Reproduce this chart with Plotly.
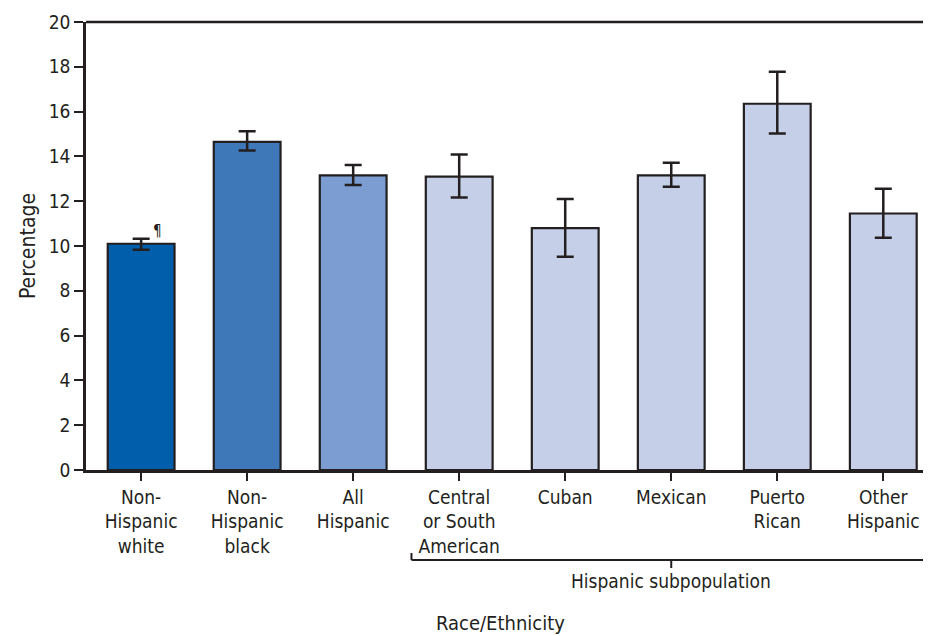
import plotly.graph_objects as go

categories = ["Non-<br>Hispanic<br>white", "Non-<br>Hispanic<br>black", "All<br>Hispanic",
              "Central<br>or South<br>American", "Cuban", "Mexican", "Puerto<br>Rican", "Other<br>Hispanic"]
values = [10.1, 14.65, 13.15, 13.1, 10.8, 13.15, 16.35, 11.45]
err_upper = [10.32, 15.12, 13.62, 14.08, 12.1, 13.72, 17.78, 12.56]
err_lower = [9.83, 14.26, 12.72, 12.16, 9.52, 12.65, 15.02, 10.37]
colors = ["#005eaa", "#3f78b9", "#7b9dd2", "#c5d0e8", "#c5d0e8", "#c5d0e8", "#c5d0e8", "#c5d0e8"]
y_ticks = [0, 2, 4, 6, 8, 10, 12, 14, 16, 18, 20]

FONT = "DejaVu Sans Condensed, sans-serif"
DARK = "#231f20"

# page body has an 8px margin; compensate so the figure fills the 931x636 window
W, H = 923, 628
xs = list(range(len(categories)))
fig = go.Figure()
fig.add_trace(go.Bar(
    x=xs, y=values, width=0.63,
    marker=dict(color=colors, line=dict(color=DARK, width=2.2)),
    error_y=dict(type="data", symmetric=False,
                 array=[u - v for u, v in zip(err_upper, values)],
                 arrayminus=[v - l for v, l in zip(values, err_lower)],
                 color=DARK, thickness=2.5, width=8.5),
    hoverinfo="skip",
))

# pilcrow footnote marker above first bar
fig.add_annotation(x=0, y=err_upper[0], text="¶", showarrow=False, xref="x", yref="y",
                   xshift=16, yshift=8, font=dict(family=FONT, size=15, color=DARK))

plot_h = 448.0
def py(pix):  # pixel offset below the x axis -> paper y
    return -pix / plot_h

bx0, bx1, bxc = 2.55, 7.41, 5.0
by = py(90)
fig.add_shape(type="line", xref="x", yref="paper", x0=bx0, x1=bx1, y0=by, y1=by,
              line=dict(color=DARK, width=2))
for bx in (bx0, bx1):
    fig.add_shape(type="line", xref="x", yref="paper", x0=bx, x1=bx, y0=by, y1=by - py(7),
                  line=dict(color=DARK, width=2))
fig.add_shape(type="line", xref="x", yref="paper", x0=bxc, x1=bxc, y0=by, y1=py(98),
              line=dict(color=DARK, width=2))
fig.add_annotation(x=bxc, y=py(111), xref="x", yref="paper", text="Hispanic subpopulation",
                   showarrow=False, yanchor="middle", font=dict(family=FONT, size=19, color=DARK))
fig.add_annotation(x=0.5, y=py(153), xref="paper", yref="paper", text="Race/Ethnicity",
                   showarrow=False, yanchor="middle", xshift=-8,
                   font=dict(family=FONT, size=20, color=DARK))

fig.update_layout(
    width=W, height=H,
    margin=dict(l=78, r=0, t=14, b=H - 14 - 448),
    plot_bgcolor="white", paper_bgcolor="white",
    showlegend=False,
    font=dict(family=FONT, color=DARK, size=19),
    xaxis=dict(range=[-0.52, 7.45], tickmode="array", tickvals=xs, ticktext=categories,
               showline=True, linecolor=DARK, linewidth=2.5, mirror=False,
               ticks="outside", ticklen=8, tickwidth=2, tickcolor=DARK,
               showgrid=False, zeroline=False, tickfont=dict(size=19, family=FONT, color=DARK)),
    yaxis=dict(range=[0, 20], tickmode="array", tickvals=y_ticks,
               showline=True, linecolor=DARK, linewidth=2.5,
               ticks="outside", ticklen=9, tickwidth=2, tickcolor=DARK,
               showgrid=False, zeroline=False, tickfont=dict(size=19, family=FONT, color=DARK),
               title=dict(text="Percentage", font=dict(size=21, family=FONT, color=DARK), standoff=8)),
)
fig.add_shape(type="line", xref="paper", yref="paper", x0=0, x1=1, y0=1, y1=1,
              line=dict(color=DARK, width=2.5))

fig.write_html("out.html")
